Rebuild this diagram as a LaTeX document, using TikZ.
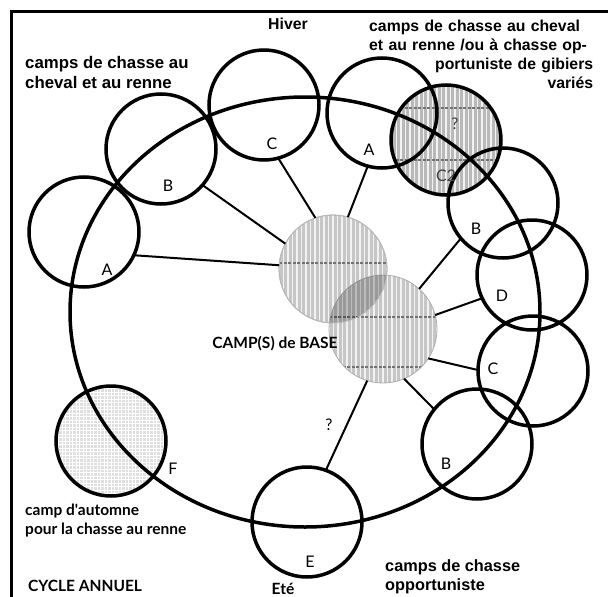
\documentclass[tikz,border=0pt]{standalone}
\usepackage{fontspec}
\setmainfont{Liberation Sans}
\newfontfamily\lato{Lato}
\begin{document}
\begin{tikzpicture}[x=1pt,y=-1pt,
  camp/.style={circle, draw=black, line width=3.5pt, minimum size=110pt, inner sep=0pt, outer sep=0pt},
  basecamp/.style={circle, draw=gray!65, line width=0.8pt, minimum size=108pt, inner sep=0pt, outer sep=0pt},
  hatch/.style n args={2}{path picture={
    \fill[#1] (path picture bounding box.south west) rectangle (path picture bounding box.north east);
    \foreach \i in {-63,-58.5,...,63}
      \draw[white!90!gray, line width=1.5pt] ([xshift=\i pt]path picture bounding box.north) -- ([xshift=\i pt]path picture bounding box.south);
    \foreach \b in {#2}
      \draw[black!55, line width=1.8pt, dash pattern=on 3pt off 1.5pt] ([yshift=\b pt]path picture bounding box.west) -- ([yshift=\b pt]path picture bounding box.east);
  }},
  gridfill/.style={path picture={
    \fill[gray!25] (path picture bounding box.south west) rectangle (path picture bounding box.north east);
    \foreach \i in {-63,-59.5,...,63}{
      \draw[white, line width=0.9pt] ([xshift=\i pt]path picture bounding box.north) -- ([xshift=\i pt]path picture bounding box.south);
      \draw[white, line width=0.9pt] ([yshift=\i pt]path picture bounding box.west) -- ([yshift=\i pt]path picture bounding box.east);}
  }},
  link/.style={line width=2pt},
  hv/.style={font=\fontsize{15.8}{19}\selectfont\bfseries, inner sep=0pt},
  hvl/.style={font=\fontsize{16.8}{20}\selectfont\bfseries, inner sep=0pt},
  lt/.style={font=\lato\bfseries\fontsize{15.5}{18.5}\selectfont, inner sep=0pt},
  let/.style={font=\lato\fontsize{16}{16}\selectfont, inner sep=0pt}
]
\useasboundingbox (0,0) rectangle (608,597);
\fill[white] (0,0) rectangle (608,597);
% frame
\draw[line width=2.5pt] (11.5,597) -- (11.5,11.5) -- (608,11.5);

% base camps
\node[basecamp, hatch={gray!45}{6}] (b1) at (333,269) {};
\node[basecamp, hatch={gray!45}{12,-38}] (b2) at (383,329) {};
\begin{scope}
  \clip (333,269) circle (54pt);
  \fill[black, opacity=0.22] (383,329) circle (54pt);
\end{scope}
\draw[gray!55, line width=0.8pt] (333,269) circle (54pt);

% shaded ? camp
\node[camp, hatch={gray!55}{32,-20}] (q) at (446,140) {};
% autumn camp
\node[camp, gridfill] (f) at (111,441) {};

% seasonal camps
\node[camp] (a1) at (84,232) {};
\node[camp] (bl) at (161,149) {};
\node[camp] (ct) at (264,105) {};
\node[camp] (at) at (382,113) {};
\node[camp] (br) at (503,203) {};
\node[camp] (d) at (532,275) {};
\node[camp] (cr) at (533,371) {};
\node[camp] (bb) at (477,444) {};
\node[camp] (e) at (307,522) {};

% annual cycle
\draw[line width=3.5pt] (305,312) ellipse [x radius=235pt, y radius=215pt];

% links to base camps
\draw[link] (a1.-25) -- (b1.176);
\draw[link] (bl.-41) -- (b1.152);
\draw[link] (ct.-75) -- (b1.109);
\draw[link] (at.-105) -- (b1.74);
\draw[link] (br.-140) -- (b2.48);
\draw[link] (d.-155) -- (b2.15);
\draw[link] (cr.179) -- (b2.-33);
\draw[link] (bb.141) -- (b2.-67);
\draw[link] (e.70) -- (b2.-107);

% letters
\node[let] (la1) at (107,270) {A};
\node[let] (lbl) at (168,186) {B};
\node[let] (lct) at (272,144) {C};
\node[let] (lat) at (369,150) {A};
\node[let, text=black!75] (lq) at (455,124) {?};
\node[let, text=black!75] (lc2) at (446,176) {C2};
\node[let] (lbr) at (476,229) {B};
\node[let] (ld) at (502,296) {D};
\node[let] (lcr) at (493,369) {C};
\node[let] (lbb) at (446,464) {B};
\node[let] (le) at (310,562) {E};
\node[let] (lf) at (173,469) {F};
\node[let] (le2) at (329,425) {?};

% texts
\node[hv, anchor=center] (hiver) at (288,24) {Hiver};
\node[hv, anchor=north west, align=left, text width=224pt] (tr) at (369,20)
  {camps de chasse au cheval\\ et au renne /ou à chasse op-\\ \hspace*{\fill}portuniste de gibiers\\ \hspace*{\fill}variés};
\node[hvl, anchor=north west, align=left] (tl) at (25,56) {camps de chasse au\\ cheval et au renne};
\node[lt, anchor=center] (base) at (275,344) {CAMP(S) de BASE};
\node[lt, anchor=north west, align=left] (aut) at (25,504) {camp d'automne\\ pour la chasse au renne};
\node[lt, anchor=west] (cyc) at (28,586) {CYCLE ANNUEL};
\node[lt, anchor=south] (ete) at (283,595) {Eté};
\node[hv, font=\fontsize{16.3}{19}\selectfont\bfseries, anchor=north west, align=left] (opp) at (385,559) {camps de chasse\\ opportuniste};
\end{tikzpicture}
\end{document}
